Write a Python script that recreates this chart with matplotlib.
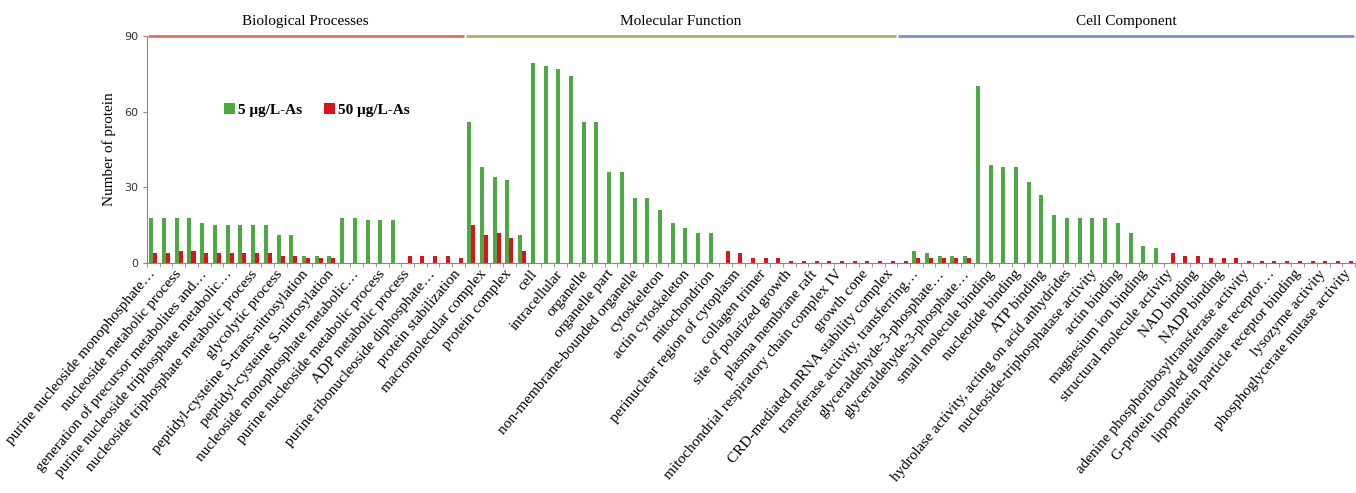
import matplotlib
matplotlib.use("Agg")
import matplotlib.pyplot as plt
import numpy as np

# protein counts per GO term (every slot), two arsenic doses
low_dose = [18, 18, 18, 18, 16, 15, 15, 15, 15, 15, 11, 11, 3, 3, 3, 18, 18, 17, 17, 17,
            0, 0, 0, 0, 0,
            56, 38, 34, 33, 11, 79, 78, 77, 74, 56, 56, 36, 36, 26, 26, 21, 16, 14, 12, 12,
            0, 0, 0, 0, 0, 0, 0, 0, 0, 0, 0, 0, 0, 0, 0,
            5, 4, 3, 3, 3, 70, 39, 38, 38, 32, 27, 19, 18, 18, 18, 18, 16, 12, 7, 6,
            0, 0, 0, 0, 0, 0, 0, 0, 0, 0, 0, 0, 0, 0, 0]
high_dose = [4, 4, 5, 5, 4, 4, 4, 4, 4, 4, 3, 3, 2, 2, 2, 0, 0, 0, 0, 0,
             3, 3, 3, 3, 2,
             15, 11, 12, 10, 5, 0, 0, 0, 0, 0, 0, 0, 0, 0, 0, 0, 0, 0, 0, 0,
             5, 4, 2, 2, 2, 1, 1, 1, 1, 1, 1, 1, 1, 1, 1,
             2, 2, 2, 2, 2, 0, 0, 0, 0, 0, 0, 0, 0, 0, 0, 0, 0, 0, 0, 0,
             4, 3, 3, 2, 2, 2, 1, 1, 1, 1, 1, 1, 1, 1, 1]

# only every second term gets a printed label
term_labels = [
    "purine nucleoside monophosphate…", "nucleoside metabolic process",
    "generation of precursor metabolites and…", "purine nucleoside triphosphate metabolic…",
    "nucleoside triphosphate metabolic process", "glycolytic process",
    "peptidyl-cysteine S-trans-nitrosylation", "peptidyl-cysteine S-nitrosylation",
    "nucleoside monophosphate metabolic…", "purine nucleoside metabolic process",
    "ADP metabolic process", "purine ribonucleoside diphosphate…",
    "protein stabilization", "macromolecular complex", "protein complex", "cell",
    "intracellular", "organelle", "organelle part", "non-membrane-bounded organelle",
    "cytoskeleton", "actin cytoskeleton", "mitochondrion", "perinuclear region of cytoplasm",
    "collagen trimer", "site of polarized growth", "plasma membrane raft",
    "mitochondrial respiratory chain complex IV", "growth cone",
    "CRD-mediated mRNA stability complex", "transferase activity, transferring…",
    "glyceraldehyde-3-phosphate…", "glyceraldehyde-3-phosphate…", "small molecule binding",
    "nucleotide binding", "ATP binding", "hydrolase activity, acting on acid anhydrides",
    "nucleoside-triphosphatase activity", "actin binding", "magnesium ion binding",
    "structural molecule activity", "NAD binding", "NADP binding",
    "adenine phosphoribosyltransferase activity", "G-protein coupled glutamate receptor…",
    "lipoprotein particle receptor binding", "lysozyme activity",
    "phosphoglycerate mutase activity"]

sections = ["Biological Processes", "Molecular Function", "Cell Component"]
section_sizes = [25, 34, 36]
section_colors = ["#E46C6C", "#9BBB59", "#7B93CB"]

series_names = ["5 μg/L-As", "50 μg/L-As"]
green = "#4EA843"
red = "#D9151C"
serif = "Liberation Serif"

n = len(low_dose)
x = np.arange(n)
w = 0.315

fig = plt.figure(figsize=(13.56, 4.93), dpi=100)
ax = fig.add_axes([0.1084, 0.466, 0.8909, 0.4617])

ax.bar(x - w / 2, low_dose, w, color=green, label=series_names[0], zorder=2)
ax.bar(x + w / 2, high_dose, w, color=red, label=series_names[1], zorder=2)

ax.set_xlim(-0.5, n - 0.5)
ax.set_ylim(0, 90)
ax.set_yticks([0, 30, 60, 90])
ax.tick_params(axis="y", labelsize=8, length=3, color="#888888", labelcolor="#333333")

ax.set_xticks(x[::2])
ax.set_xticklabels(term_labels, rotation=50, rotation_mode="anchor", ha="right",
                   va="center", family=serif, fontsize=11)
ax.tick_params(axis="x", which="major", length=0, pad=6)
ax.set_xticks(np.arange(n + 1) - 0.5, minor=True)
ax.tick_params(axis="x", which="minor", length=3, color="#888888")

for side in ["top", "right"]:
    ax.spines[side].set_visible(False)
for side in ["left", "bottom"]:
    ax.spines[side].set_color("#888888")

ax.set_ylabel("Number of protein", family=serif, fontsize=11, labelpad=6)

# section brackets along the top
start = 0
for name, size, col in zip(sections, section_sizes, section_colors):
    lo, hi = start - 0.45, start + size - 0.6
    ax.plot([lo, hi], [90, 90], color=col, lw=2, clip_on=False, solid_capstyle="butt")
    ax.text((lo + hi) / 2, 93, name, ha="center", va="bottom", family=serif, fontsize=11)
    start += size

ax.legend(loc="center left", bbox_to_anchor=(0.052, 0.674), ncol=2, frameon=False,
          prop={"family": serif, "weight": "bold", "size": 11},
          handlelength=0.75, handleheight=0.75, handletextpad=0.2, columnspacing=1.4)

fig.savefig("out.png", dpi=100)
